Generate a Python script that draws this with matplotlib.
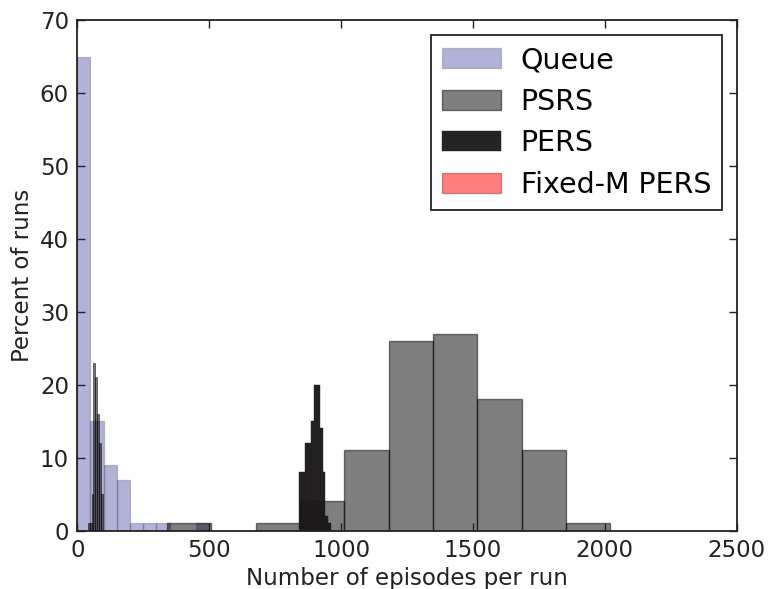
import numpy as np
import matplotlib
matplotlib.use("Agg")
from matplotlib import pyplot as plt

# histogram bins (percent of runs per bin)
queue_edges = [0, 50, 100, 150, 200, 250, 300, 350, 400, 450, 500]
queue_pct = [65, 15, 9, 7, 1, 1, 1, 0, 0, 1]

psrs_edges = [340, 508, 677, 845, 1013, 1181, 1349, 1517, 1685, 1853, 2021]
psrs_pct = [1, 0, 1, 4, 11, 26, 27, 18, 11, 1]

pers_edges = [842, 853, 864, 875, 886, 897, 908, 919, 930, 941, 952, 963, 974]
pers_pct = [8, 8, 12, 12, 15, 20, 20, 14, 8, 2, 1, 0]

# the narrow cluster just above zero episodes
near_edges = [40, 47, 54, 61, 68, 75, 82, 89, 96]
near_pct = [1, 1, 5, 23, 21, 16, 12, 5]

fixed_edges = [0, 1]
fixed_pct = [0]

plt.rcParams['font.family'] = ['DejaVu Sans']
fig = plt.figure(figsize=(7.73, 5.89), dpi=100)
ax = fig.add_axes([0.1, 0.0993, 0.853, 0.866])


def draw(edges, pct, lw=1.0, **kw):
    edges = np.array(edges, dtype=float)
    ax.hist(edges[:-1], bins=edges, weights=pct, histtype='bar', rwidth=1.0,
            linewidth=lw, **kw)


draw(queue_edges, queue_pct, facecolor='navy', edgecolor='#555555', alpha=0.3, label='Queue')
draw(psrs_edges, psrs_pct, facecolor='black', edgecolor='black', alpha=0.5, label='PSRS')
draw(near_edges, near_pct, facecolor='black', edgecolor='black', alpha=0.55, lw=0.6)
draw(pers_edges, pers_pct, facecolor='#1a1718', edgecolor='#1a1718', alpha=0.95, lw=0.3,
     label='PERS')
draw(fixed_edges, fixed_pct, facecolor='red', edgecolor='#993333', alpha=0.5, label='Fixed-M PERS')

ax.set_xlim(0, 2500)
ax.set_ylim(0, 70)
ax.set_xticks([0, 500, 1000, 1500, 2000, 2500])
ax.set_yticks(range(0, 71, 10))
ax.tick_params(direction='in', length=6, width=1, top=True, right=True,
               labelsize=16.5, colors='#222222', pad=6)
for s in ax.spines.values():
    s.set_linewidth(1.3)
    s.set_color('#222222')

ax.set_xlabel('Number of episodes per run', fontsize=16.5, color='#222222')
ax.set_ylabel('Percent of runs', fontsize=16.5, color='#222222')

leg = ax.legend(loc='upper right', fontsize=20.5, fancybox=False, framealpha=1,
                edgecolor='#222222', handlelength=2.05, handleheight=0.7,
                labelspacing=0.48, borderaxespad=0.5, handletextpad=0.7)
leg.get_frame().set_linewidth(1.3)

fig.savefig('out.png', dpi=100)
